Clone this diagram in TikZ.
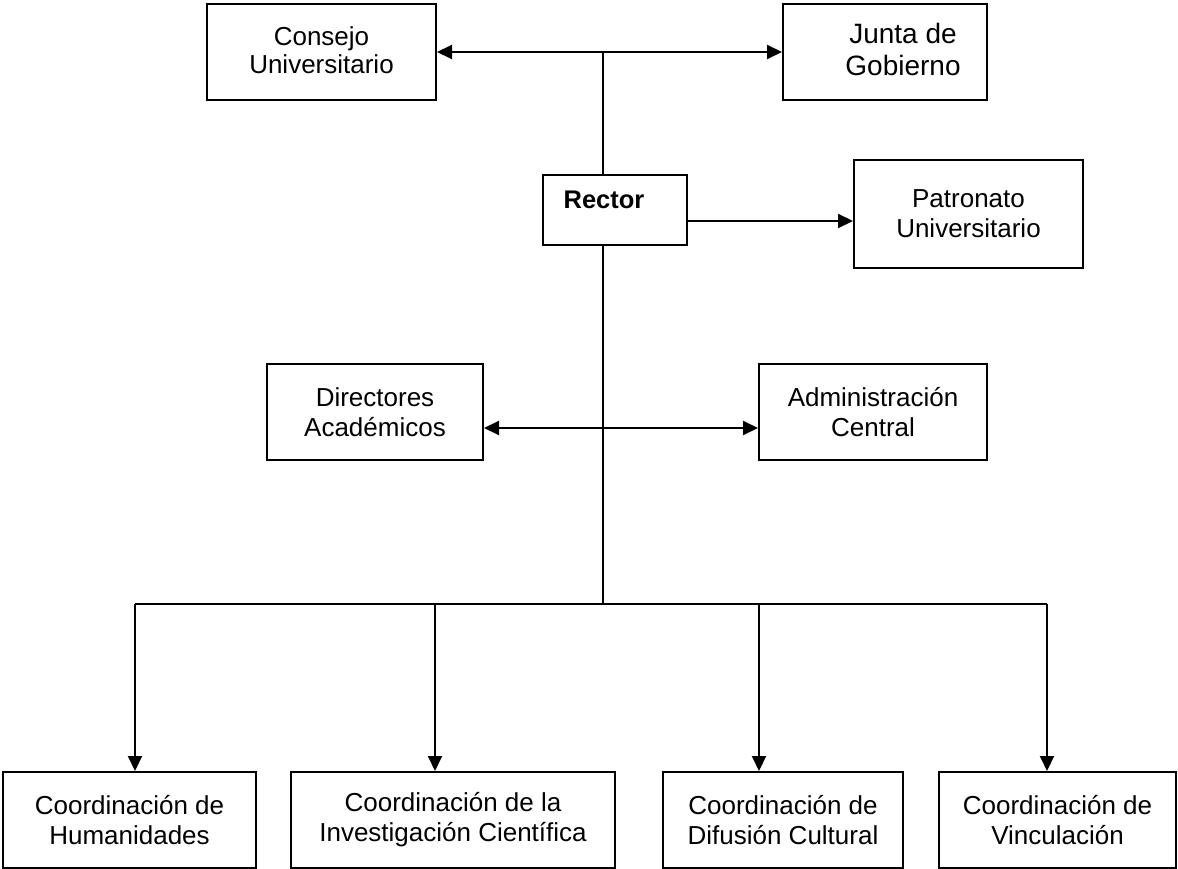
\documentclass[tikz,border=0pt]{standalone}
\usepackage{fontspec}
\setmainfont{Liberation Sans}
\usetikzlibrary{arrows.meta}
\begin{document}
\begin{tikzpicture}[x=1pt,y=-1pt,
  box/.style={draw,line width=2pt,rectangle,inner sep=0pt,align=center,
    font=\fontsize{26}{30}\selectfont},
  txt/.style={inner sep=0pt,align=center},
  conn/.style={line width=2pt},
  arr/.style={line width=2pt,-{Triangle[length=15pt,width=14pt]}},
  darr/.style={line width=2pt,{Triangle[length=15pt,width=14pt]}-{Triangle[length=15pt,width=14pt]}}]
\useasboundingbox (0,0) rectangle (1178,869);
\node[box,minimum width=229pt,minimum height=96pt,font=\fontsize{26}{28.5}\selectfont] (consejo) at (321.5,52) {};
\node[txt,font=\fontsize{26}{28.5}\selectfont] (consejotxt) at (321.5,50) {Consejo\\Universitario};
\node[box,minimum width=204pt,minimum height=96pt] (junta) at (885,52) {};
\node[txt,font=\fontsize{28}{32}\selectfont] (juntatxt) at (903,49) {Junta de\\Gobierno};
\node[box,minimum width=144pt,minimum height=70pt] (rector) at (615,210) {};
\node[txt,font=\bfseries\fontsize{25.5}{30}\selectfont] (rectortxt) at (604,200) {Rector};
\node[box,minimum width=229pt,minimum height=108pt] (patronato) at (968.5,214) {Patronato\\Universitario};
\node[box,minimum width=216pt,minimum height=96pt] (directores) at (375,412) {Directores\\Académicos};
\node[box,minimum width=228pt,minimum height=96pt] (admin) at (873,412) {Administración\\Central};
\node[box,minimum width=253pt,minimum height=96pt] (b1) at (129.5,820) {Coordinación de\\Humanidades};
\node[box,minimum width=324pt,minimum height=96pt] (b2) at (453,820) {Coordinación de la\\Investigación Científica};
\node[box,minimum width=240pt,minimum height=96pt] (b3) at (783,820) {Coordinación de\\Difusión Cultural};
\node[box,minimum width=237pt,minimum height=96pt] (b4) at (1057.5,820) {Coordinación de\\Vinculación};
\coordinate (top) at (603,52);
\coordinate (hub) at (603,604);
\coordinate (d1) at (135,604);
\coordinate (d2) at (435,604);
\coordinate (d3) at (759,604);
\coordinate (d4) at (1047,604);
\draw[darr] (consejo.east) -- (junta.west);
\draw[conn] (top) -- (top |- rector.north);
\draw[arr] ([yshift=-11pt]rector.east) -- ([yshift=-11pt]rector.east -| patronato.west);
\draw[conn] (top |- rector.south) -- (hub);
\draw[darr] ([yshift=-16pt]directores.east) -- ([yshift=-16pt]directores.east -| admin.west);
\draw[conn] (d1) -- (d4);
\draw[arr] (d1) -- (d1 |- b1.north);
\draw[arr] (d2) -- (d2 |- b2.north);
\draw[arr] (d3) -- (d3 |- b3.north);
\draw[arr] (d4) -- (d4 |- b4.north);
\end{tikzpicture}
\end{document}
